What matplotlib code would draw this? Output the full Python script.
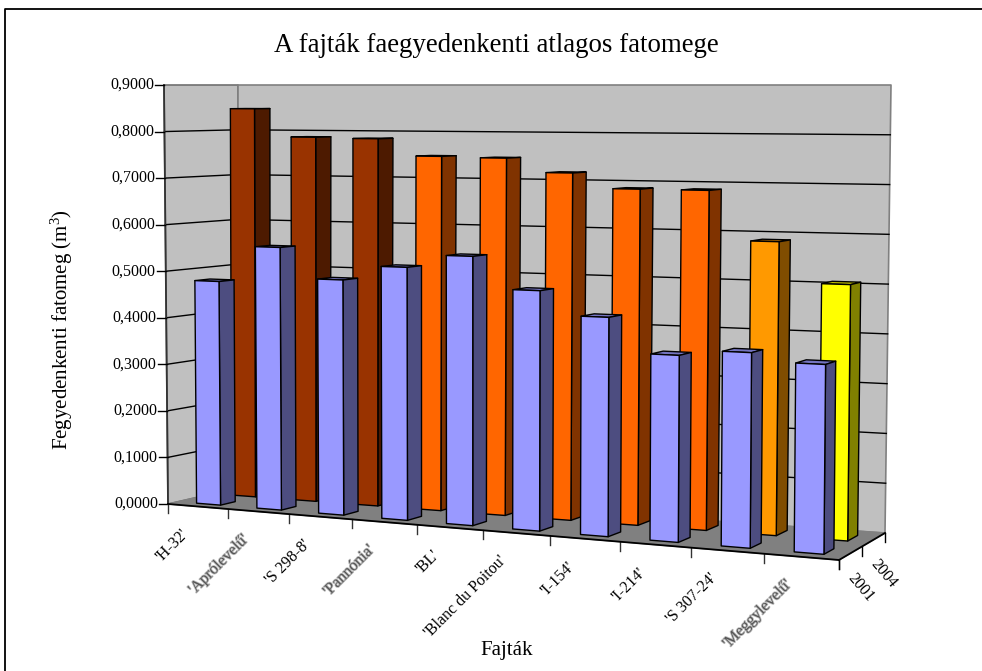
# --- Import Required Libraries ---
import numpy as np
import matplotlib
matplotlib.use('Agg')
import matplotlib.pyplot as plt
import matplotlib.patheffects as pe

plt.rcParams['font.family'] = ['Liberation Serif', 'DejaVu Serif']
plt.rcParams['mathtext.fontset'] = 'custom'
plt.rcParams['mathtext.rm'] = 'Liberation Serif'
plt.rcParams['mathtext.default'] = 'regular'

# --- Chart Data ---
categories = ["'H-32'", "'Aprólevelű'", "'S 298-8'", "'Pannónia'", "'BL'",
              "'Blanc du Poitou'", "'I-154'", "'I-214'", "'S 307-24'", "'Meggylevelű'"]
values_2001 = [0.479, 0.556, 0.492, 0.523, 0.55, 0.485, 0.437, 0.368, 0.38, 0.364]
values_2004 = [0.848, 0.787, 0.785, 0.749, 0.747, 0.718, 0.687, 0.687, 0.587, 0.506]
series_names = ['2001', '2004']
value_ticks = [0.0, 0.1, 0.2, 0.3, 0.4, 0.5, 0.6, 0.7, 0.8, 0.9]
blurred = {"'Aprólevelű'", "'Pannónia'", "'Meggylevelű'"}

colors_2004 = ['#993300'] * 3 + ['#FF6600'] * 5 + ['#FF9900', '#FFFF00']
color_2001 = '#9999FF'

# --- 3D Projection ---
# Pixel positions of the chart box corners: front left, front right, back left, back right
FLOOR = np.array([[168, 504], [839, 560], [238, 488], [885, 533]], float)
CEIL = np.array([[164, 85], [843, 85], [238, 85], [891, 85]], float)
N_CAT = len(categories)
V_MAX = value_ticks[-1]


def project(cat, depth, value):
    # Categories get wider towards the viewer (right side), depth and value stay linear
    u = cat / N_CAT
    b = -0.117 + 0.03 * depth
    s = u * (1 + b) / (1 + b * u)
    w = np.array([(1 - s) * (1 - depth), s * (1 - depth), (1 - s) * depth, s * depth])
    floor_pt = w @ FLOOR
    ceil_pt = w @ CEIL
    p = floor_pt + (ceil_pt - floor_pt) * value / V_MAX
    return p[0], p[1]


def face(ax, corners, color, lw=1.0, edge='black', z=2):
    pts = [project(*c) for c in corners]
    ax.fill(*zip(*pts), facecolor=color, edgecolor=edge, linewidth=lw, zorder=z, joinstyle='round')


def shade(hex_color, k):
    return tuple(np.array(matplotlib.colors.to_rgb(hex_color)) * k)


def draw_bar(ax, cat, d0, d1, value, color, z):
    u0, u1 = cat + 0.31, cat + 0.71
    face(ax, [(u0, d0, value), (u1, d0, value), (u1, d1, value), (u0, d1, value)], shade(color, 0.75), z=z)
    face(ax, [(u1, d0, 0), (u1, d1, 0), (u1, d1, value), (u1, d0, value)], shade(color, 0.5), z=z)
    face(ax, [(u0, d0, 0), (u1, d0, 0), (u1, d0, value), (u0, d0, value)], color, z=z)


# --- Plotting ---
fig = plt.figure(figsize=(9.82, 6.71), dpi=100)
ax = fig.add_axes([0, 0, 1, 1])
ax.set_xlim(0, 982)
ax.set_ylim(671, 0)
ax.axis('off')

# Chart frame
ax.plot([5.5, 5.5, 982], [671, 8.5, 8.5], color='black', lw=1.3, zorder=1)

# Walls and floor
face(ax, [(0, 0, 0), (0, 1, 0), (0, 1, V_MAX), (0, 0, V_MAX)], '#C0C0C0', lw=1.2, edge='#707070')
face(ax, [(0, 1, 0), (N_CAT, 1, 0), (N_CAT, 1, V_MAX), (0, 1, V_MAX)], '#C0C0C0', lw=1.2, edge='#808080')
face(ax, [(0, 0, 0), (N_CAT, 0, 0), (N_CAT, 1, 0), (0, 1, 0)], '#808080', lw=1.0, edge='#808080')

# Gridlines on both walls
for v in value_ticks[1:-1]:
    pts = [project(0, 0, v), project(0, 1, v), project(N_CAT, 1, v)]
    ax.plot(*zip(*pts), color='black', lw=1.0, zorder=2)

# Axis lines
ax.plot(*zip(project(0, 0, 0), project(0, 0, V_MAX)), color='#333333', lw=1.3, zorder=3)
ax.plot(*zip(project(0, 0, 0), project(N_CAT, 0, 0)), color='black', lw=1.3, zorder=30)
ax.plot(*zip(project(N_CAT, 0, 0), project(N_CAT, 1, 0)), color='black', lw=1.3, zorder=30)

# Bars, back row first and right to left so the nearer faces overlap
for i in range(N_CAT - 1, -1, -1):
    draw_bar(ax, i, 0.645, 0.855, values_2004[i], colors_2004[i], 10)
for i in range(N_CAT - 1, -1, -1):
    draw_bar(ax, i, 0.145, 0.355, values_2001[i], color_2001, 20)

# Value axis ticks and labels
for v in value_ticks:
    x, y = project(0, 0, v)
    ax.plot([x - 9, x], [y, y], color='black', lw=1.0, zorder=3)
    ax.text(x - 10, y, f'{v:.4f}'.replace('.', ','), ha='right', va='center', fontsize=11.5, color='black')

# Category ticks and labels
for i in range(N_CAT + 1):
    x, y = project(i, 0, 0)
    ax.plot([x, x], [y, y + 9], color='#333333', lw=1.0, zorder=3)
for i, name in enumerate(categories):
    x, y = project(i + 0.5, 0, 0)
    kw = {}
    if name in blurred:
        kw = {'color': '#555555', 'path_effects': [pe.withStroke(linewidth=1.2, foreground='#BBBBBB')]}
    ax.text(x - 18, y + 20, name, rotation=45, rotation_mode='anchor', ha='right', va='top', fontsize=11.5, **kw)

# Series ticks and labels
for d in [0, 0.5, 1]:
    x, y = project(N_CAT, d, 0)
    ax.plot([x, x], [y, y + 9], color='black', lw=1.0, zorder=3)
for k, name in enumerate(series_names):
    x, y = project(N_CAT, 0.25 + 0.5 * k, 0)
    ax.text(x + 10, y + 34, name, rotation=-50, ha='center', va='center', fontsize=11.5)

# Titles
ax.text(496, 45, 'A fajták faegyedenkenti atlagos fatomege', ha='center', va='center', fontsize=19.4)
ax.text(62, 330, 'Fegyedenkenti fatomeg (m$^{3}$)', rotation=90, ha='center', va='center', fontsize=15)
ax.text(507, 650, 'Fajták', ha='center', va='center', fontsize=15)

fig.savefig('out.png', dpi=100)
